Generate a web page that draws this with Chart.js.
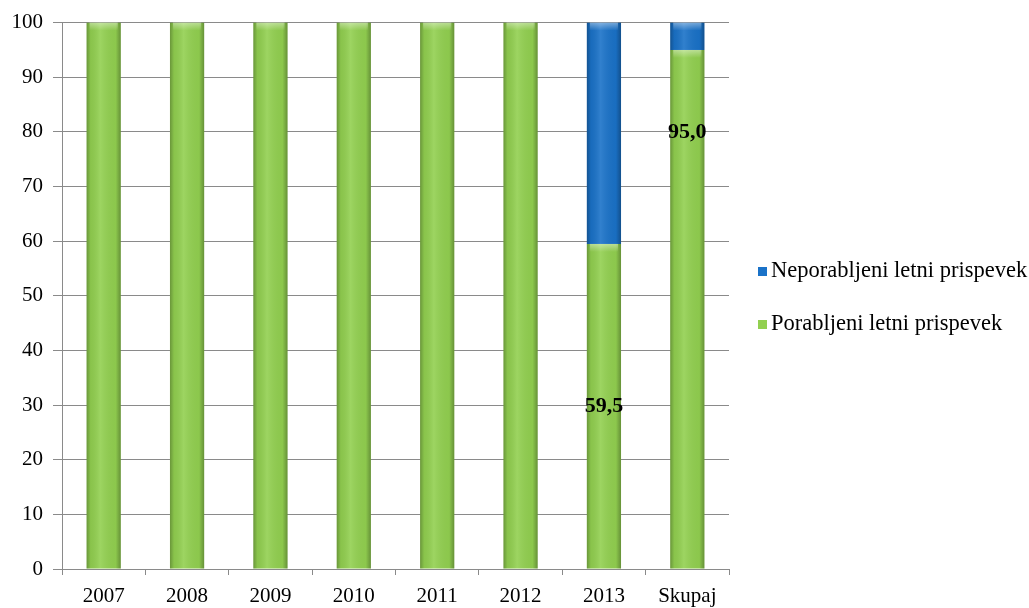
<!DOCTYPE html>
<html>
<head>
<meta charset="utf-8">
<script src="https://cdn.jsdelivr.net/npm/chart.js@4/dist/chart.umd.min.js"></script>
<style>
body{margin:0;background:#fff;}
</style>
</head>
<body>
<canvas id="myChart" width="1029" height="608"></canvas>
<script>
var years = ['2007','2008','2009','2010','2011','2012','2013','Skupaj'];
var porabljeni = [100,100,100,100,100,100,59.5,95.0];
var neporabljeni = [0,0,0,0,0,0,40.5,5.0];
var porabljeniText = ['','','','','','','59,5','95,0'];
// where the value labels sit (in axis units)
var labelAt = [0,0,0,0,0,0,29.75,80];

var serif = '"Liberation Serif", "Times New Roman", serif';

// shade each bar so it looks like the rounded office bars
var shadePlugin = {
    id: 'shade',
    afterDatasetsDraw: function(chart) {
        var ctx = chart.ctx;
        chart.data.datasets.forEach(function(ds, di) {
            var meta = chart.getDatasetMeta(di);
            meta.data.forEach(function(el) {
                var top = Math.min(el.y, el.base);
                var h = Math.abs(el.base - el.y);
                if (h < 1) return;
                var left = el.x - el.width/2;
                var g = ctx.createLinearGradient(left, 0, left + el.width, 0);
                g.addColorStop(0, 'rgba(0,0,0,0.28)');
                g.addColorStop(0.12, 'rgba(0,0,0,0.06)');
                g.addColorStop(0.4, 'rgba(255,255,255,0.1)');
                g.addColorStop(0.85, 'rgba(0,0,0,0.04)');
                g.addColorStop(1, 'rgba(0,0,0,0.3)');
                ctx.save();
                ctx.fillStyle = g;
                ctx.fillRect(left, top, el.width, h);
                var cap = ctx.createLinearGradient(0, top, 0, top + 8);
                cap.addColorStop(0, 'rgba(255,255,255,0.4)');
                cap.addColorStop(1, 'rgba(255,255,255,0)');
                ctx.fillStyle = cap;
                ctx.fillRect(left + 3, top, el.width - 6, 8);
                ctx.restore();
            });
        });
    }
};

var valuePlugin = {
    id: 'values',
    afterDatasetsDraw: function(chart) {
        var ctx = chart.ctx;
        var meta = chart.getDatasetMeta(0);
        var y = chart.scales.y;
        ctx.save();
        ctx.font = 'bold 22px ' + serif;
        ctx.fillStyle = '#000';
        ctx.textAlign = 'center';
        ctx.textBaseline = 'middle';
        meta.data.forEach(function(el, i) {
            if (!porabljeniText[i]) return;
            ctx.fillText(porabljeniText[i], el.x, y.getPixelForValue(labelAt[i]));
        });
        ctx.restore();
    }
};

var legendPlugin = {
    id: 'sideLegend',
    afterDraw: function(chart) {
        var ctx = chart.ctx;
        var items = chart.data.datasets.slice().reverse();
        ctx.save();
        ctx.font = '22.5px ' + serif;
        ctx.textBaseline = 'middle';
        ctx.textAlign = 'left';
        items.forEach(function(ds, i) {
            var cy = 271 + i * 53;
            ctx.fillStyle = ds.backgroundColor;
            ctx.fillRect(758, cy - 4, 9, 9);
            ctx.fillStyle = '#000';
            ctx.fillText(ds.label, 771, cy);
        });
        ctx.restore();
    }
};

var ctx = document.getElementById('myChart');
var myChart = new Chart(ctx, {
    type: 'bar',
    data: {
        labels: years,
        datasets: [
            {
                label: 'Porabljeni letni prispevek',
                data: porabljeni,
                backgroundColor: '#92d050',
                barPercentage: 0.41,
                categoryPercentage: 1
            },
            {
                label: 'Neporabljeni letni prispevek',
                data: neporabljeni,
                backgroundColor: '#1a72c8',
                barPercentage: 0.41,
                categoryPercentage: 1
            }
        ]
    },
    options: {
        responsive: false,
        animation: false,
        layout: { padding: { left: 0, top: 22, right: 300, bottom: 0 } },
        plugins: {
            legend: { display: false },
            tooltip: { enabled: false }
        },
        scales: {
            x: {
                stacked: true,
                grid: { drawOnChartArea: false, tickLength: 6, color: '#8a8a8a' },
                border: { color: '#8a8a8a' },
                ticks: { color: '#000', font: { family: serif, size: 21 }, padding: 9 },
                afterFit: function(s) { s.height = 39; }
            },
            y: {
                stacked: true,
                min: 0,
                max: 100,
                grid: { color: '#8a8a8a', tickLength: 9 },
                border: { color: '#8a8a8a' },
                ticks: { stepSize: 10, color: '#000', font: { family: serif, size: 21 }, padding: 10 },
                afterFit: function(s) { s.width = 62; }
            }
        }
    },
    plugins: [shadePlugin, valuePlugin, legendPlugin]
});
</script>
</body>
</html>
